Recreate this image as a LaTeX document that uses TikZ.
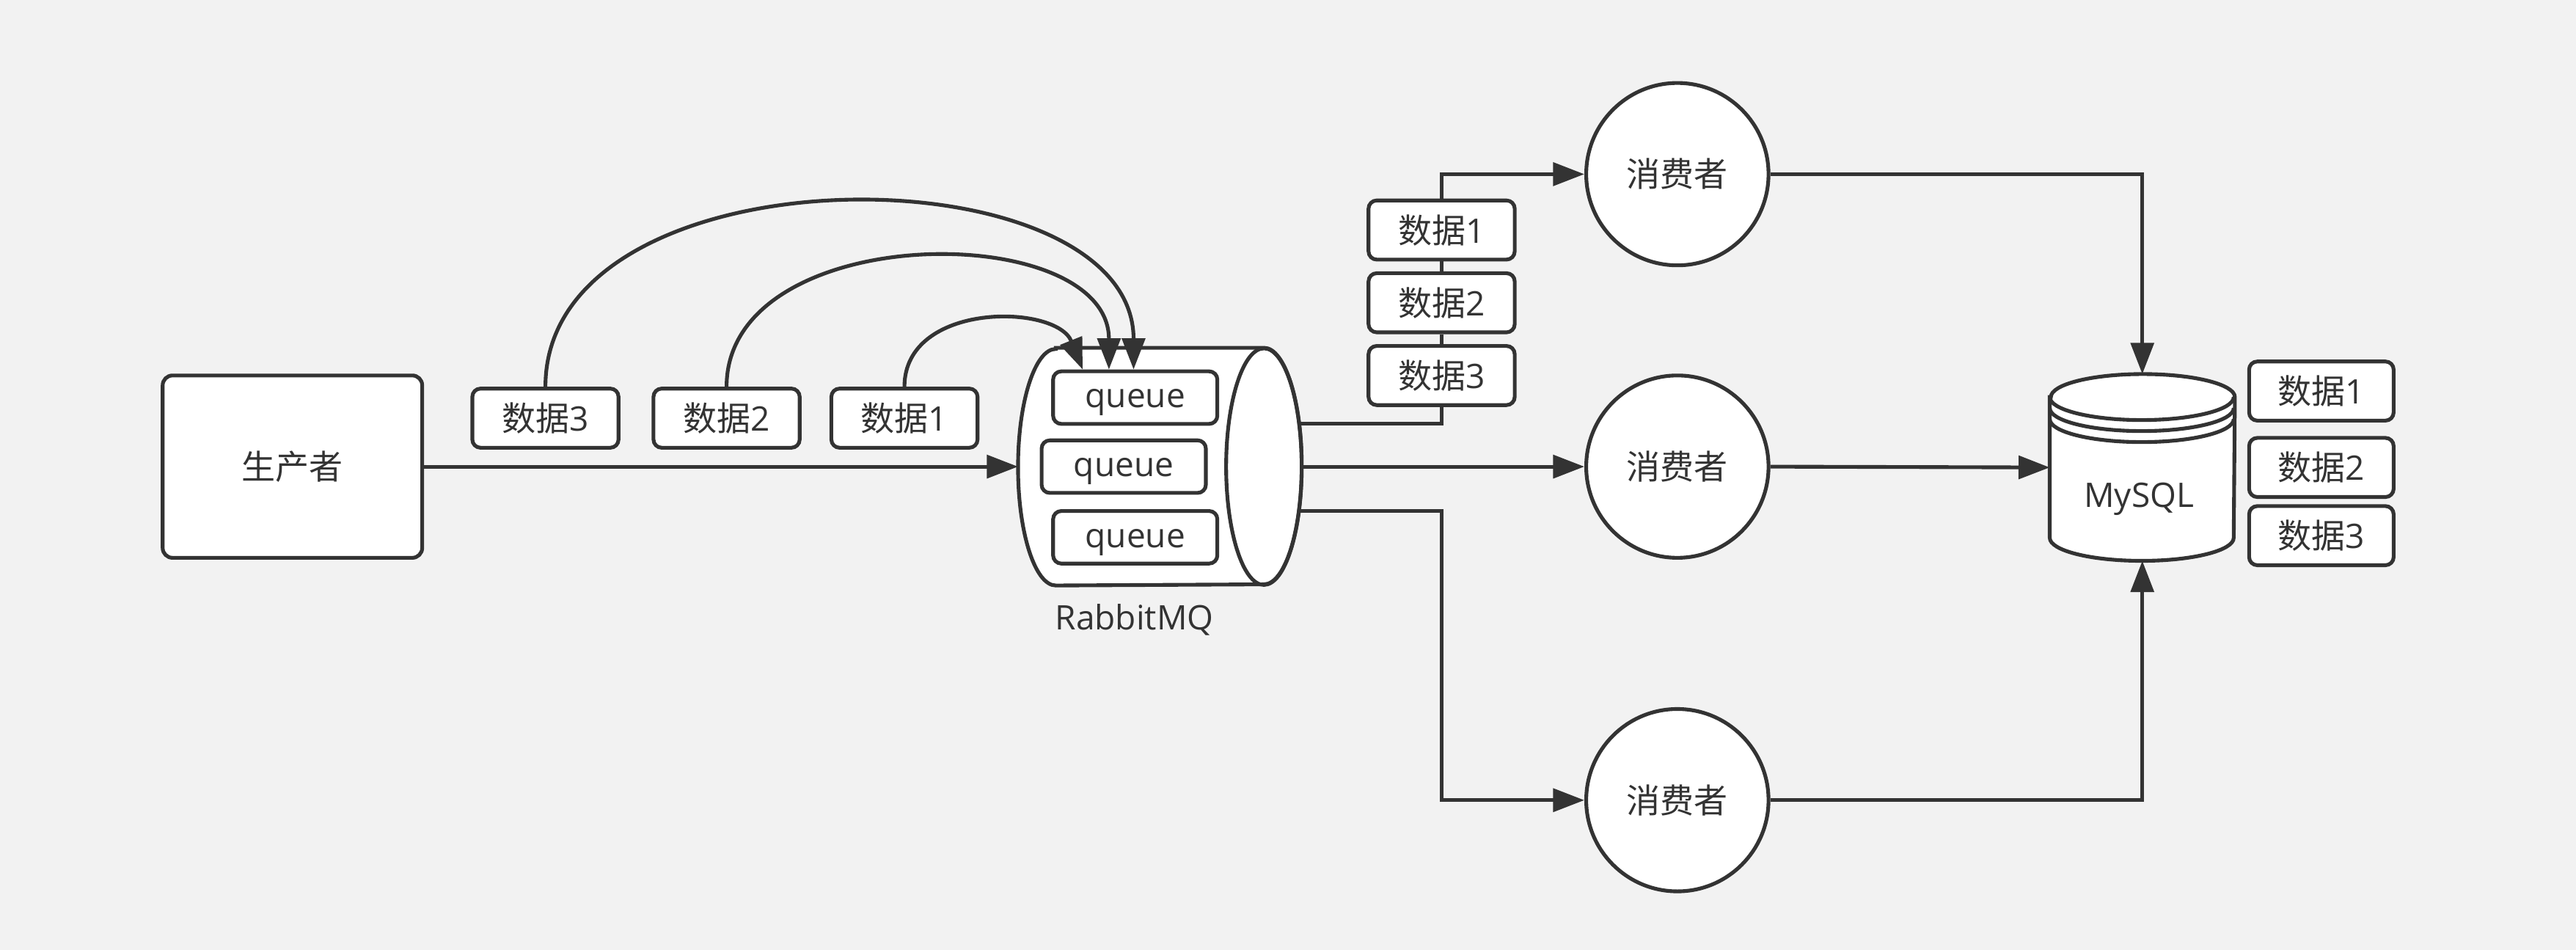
\documentclass[tikz,border=0pt]{standalone}
\usepackage{fontspec}
\setmainfont{Open Sans}
\newfontfamily\cjk{Noto Sans CJK SC}
\usetikzlibrary{arrows.meta,positioning,calc}
\definecolor{ink}{HTML}{333333}
\definecolor{paper}{HTML}{F2F2F2}
\tikzset{
  base/.style={draw=ink, line width=1.3pt, fill=white},
  databox/.style={base, rectangle, rounded corners=0.1cm, minimum width=1.78cm, minimum height=0.72cm, inner sep=0pt},
  qbox/.style={base, rectangle, rounded corners=0.1cm, minimum width=2cm, minimum height=0.64cm, inner sep=0pt, text height=0.85em, text depth=0.15em},
  consumer/.style={base, circle, minimum size=2.22cm, inner sep=0pt},
  link/.style={draw=ink, line width=1.3pt},
  arr/.style={link, ->},
}

\begin{document}
\begin{tikzpicture}[x=0.02cm, y=0.02cm, >={Triangle[length=0.38cm,width=0.28cm]},
    every node/.style={font=\fontsize{11.7}{14}\selectfont, text=ink}]
    \fill[paper] (0,0) rectangle (1568,578);
    \useasboundingbox (0,0) rectangle (1568,578);

    % producer and the data it sends
    \node [base, rectangle, rounded corners=0.12cm, minimum width=3.16cm, minimum height=2.22cm] (prod) at (178,294) {{\cjk 生产者}};
    \node [databox] (d3) at (332,323.5) {{\cjk 数据}3};
    \node [databox, right=0.38cm of d3] (d2) {{\cjk 数据}2};
    \node [databox, right=0.34cm of d2] (d1) {{\cjk 数据}1};

    % broker
    \node [inner sep=0pt, minimum width=3.44cm, minimum height=2.88cm,
           label={[label distance=0.1cm, xshift=-0.31cm]below:RabbitMQ}] (rabbit) at (706,294) {};
    \draw [base] ($(rabbit.north west)+(23,0)$) -- ($(rabbit.north east)+(-23,0)$)
        arc[start angle=90, end angle=-90, x radius=0.46cm, y radius=1.44cm]
        -- ($(rabbit.south west)+(23,0)$)
        arc[start angle=270, end angle=90, x radius=0.46cm, y radius=1.44cm] -- cycle;
    \draw [link] ($(rabbit.east)+(-23,0)$) ellipse[x radius=0.46cm, y radius=1.44cm];
    \node [qbox] (q1) at (691,336) {queue};
    \node [qbox] (q2) at (684,294) {queue};
    \node [qbox] (q3) at (691,251) {queue};

    % consumers
    \node [consumer] (c1) at (1021,472) {{\cjk 消费者}};
    \node [consumer] (c2) at (1021,294) {{\cjk 消费者}};
    \node [consumer] (c3) at (1021,91) {{\cjk 消费者}};
    \node [databox] (m1) at (877.5,438) {{\cjk 数据}1};
    \node [databox, below=0.12cm of m1] (m2) {{\cjk 数据}2};
    \node [databox, below=0.12cm of m2] (m3) {{\cjk 数据}3};

    % database
    \node [inner sep=0pt, minimum width=2.24cm, minimum height=2.26cm] (mysql) at (1304,293.5) {};
    \draw [base] ($(mysql.north west)+(0,-14)$) -- ($(mysql.south west)+(0,14)$)
        arc[start angle=180, end angle=360, x radius=1.12cm, y radius=0.28cm]
        -- ($(mysql.north east)+(0,-14)$)
        arc[start angle=0, end angle=180, x radius=1.12cm, y radius=0.28cm] -- cycle;
    \foreach \d in {0,6.7,13.4}
        \draw [link] ($(mysql.north west)+(0,-14-\d)$) arc[start angle=180, end angle=360, x radius=1.12cm, y radius=0.28cm];
    \node (mysqlname) at (1302,274.4) {MySQL};
    \node [databox, minimum width=1.76cm] (r1) at (1413,340) {{\cjk 数据}1};
    \node [databox, minimum width=1.76cm] (r2) at (1413,293.5) {{\cjk 数据}2};
    \node [databox, minimum width=1.76cm] (r3) at (1413,252) {{\cjk 数据}3};

    % connectors
    \draw [arr] (d3.north) .. controls +(0,148) and +(0,135) .. ($(q1.north)+(-1,0)$);
    \draw [arr] (d2.north) .. controls +(0,102) and +(0,92) .. ($(q1.north)+(-16,0)$);
    \draw [arr] (d1.north) .. controls +(0,52) and +(-16,40) .. ($(q1.north)+(-32,0)$);
    \draw [arr] (prod.east) -- (rabbit.west);
    \draw [link] ($(rabbit.east)+(-1,26)$) -| (m3.south);
    \draw [link] (m3.north) -- (m2.south);
    \draw [link] (m2.north) -- (m1.south);
    \draw [arr] (m1.north) |- (c1.west);
    \draw [arr] (rabbit.east) -- (c2.west);
    \draw [arr] ($(rabbit.east)+(-1,-27)$) -| (m3.south |- c3.west) -- (c3.west);
    \draw [arr] (c1.east) -| (mysql.north);
    \draw [arr] (c2.east) -- (mysql.west);
    \draw [arr] (c3.east) -| (mysql.south);
\end{tikzpicture}
\end{document}
